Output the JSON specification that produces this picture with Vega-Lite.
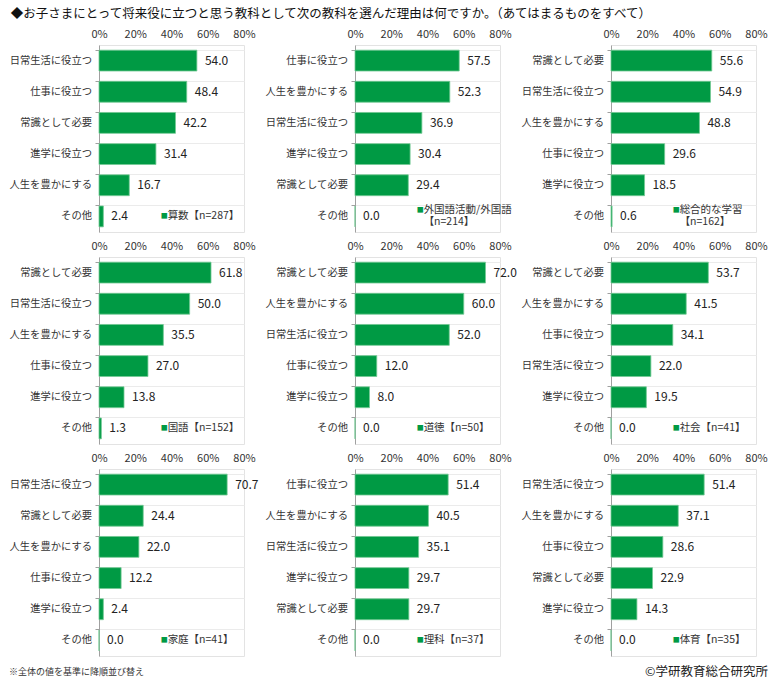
{
  "$schema": "https://vega.github.io/schema/vega-lite/v6.json",
  "padding": {"left": 8, "top": 8, "right": 5, "bottom": 0},
  "title": {
    "text": "◆お子さまにとって将来役に立つと思う教科として次の教科を選んだ理由は何ですか。（あてはまるものをすべて）",
    "anchor": "start",
    "fontSize": 12.5,
    "fontWeight": "normal",
    "color": "#111",
    "offset": 6,
    "dx": 2
  },
  "spacing": 8,
  "vconcat": [
    {
      "data": {
        "values": [
          {"subject": "算数", "reason": "日常生活に役立つ", "value": 54.0},
          {"subject": "算数", "reason": "仕事に役立つ", "value": 48.4},
          {"subject": "算数", "reason": "常識として必要", "value": 42.2},
          {"subject": "算数", "reason": "進学に役立つ", "value": 31.4},
          {"subject": "算数", "reason": "人生を豊かにする", "value": 16.7},
          {"subject": "算数", "reason": "その他", "value": 2.4, "legend": "算数【n=287】"},
          {"subject": "外国語活動/外国語", "reason": "仕事に役立つ", "value": 57.5},
          {"subject": "外国語活動/外国語", "reason": "人生を豊かにする", "value": 52.3},
          {"subject": "外国語活動/外国語", "reason": "日常生活に役立つ", "value": 36.9},
          {"subject": "外国語活動/外国語", "reason": "進学に役立つ", "value": 30.4},
          {"subject": "外国語活動/外国語", "reason": "常識として必要", "value": 29.4},
          {"subject": "外国語活動/外国語", "reason": "その他", "value": 0.0, "legend": "外国語活動/外国語\n【n=214】"},
          {"subject": "総合的な学習", "reason": "常識として必要", "value": 55.6},
          {"subject": "総合的な学習", "reason": "日常生活に役立つ", "value": 54.9},
          {"subject": "総合的な学習", "reason": "人生を豊かにする", "value": 48.8},
          {"subject": "総合的な学習", "reason": "仕事に役立つ", "value": 29.6},
          {"subject": "総合的な学習", "reason": "進学に役立つ", "value": 18.5},
          {"subject": "総合的な学習", "reason": "その他", "value": 0.6, "legend": "総合的な学習\n【n=162】"},
          {"subject": "国語", "reason": "常識として必要", "value": 61.8},
          {"subject": "国語", "reason": "日常生活に役立つ", "value": 50.0},
          {"subject": "国語", "reason": "人生を豊かにする", "value": 35.5},
          {"subject": "国語", "reason": "仕事に役立つ", "value": 27.0},
          {"subject": "国語", "reason": "進学に役立つ", "value": 13.8},
          {"subject": "国語", "reason": "その他", "value": 1.3, "legend": "国語【n=152】"},
          {"subject": "道徳", "reason": "常識として必要", "value": 72.0},
          {"subject": "道徳", "reason": "人生を豊かにする", "value": 60.0},
          {"subject": "道徳", "reason": "日常生活に役立つ", "value": 52.0},
          {"subject": "道徳", "reason": "仕事に役立つ", "value": 12.0},
          {"subject": "道徳", "reason": "進学に役立つ", "value": 8.0},
          {"subject": "道徳", "reason": "その他", "value": 0.0, "legend": "道徳【n=50】"},
          {"subject": "社会", "reason": "常識として必要", "value": 53.7},
          {"subject": "社会", "reason": "人生を豊かにする", "value": 41.5},
          {"subject": "社会", "reason": "仕事に役立つ", "value": 34.1},
          {"subject": "社会", "reason": "日常生活に役立つ", "value": 22.0},
          {"subject": "社会", "reason": "進学に役立つ", "value": 19.5},
          {"subject": "社会", "reason": "その他", "value": 0.0, "legend": "社会【n=41】"},
          {"subject": "家庭", "reason": "日常生活に役立つ", "value": 70.7},
          {"subject": "家庭", "reason": "常識として必要", "value": 24.4},
          {"subject": "家庭", "reason": "人生を豊かにする", "value": 22.0},
          {"subject": "家庭", "reason": "仕事に役立つ", "value": 12.2},
          {"subject": "家庭", "reason": "進学に役立つ", "value": 2.4},
          {"subject": "家庭", "reason": "その他", "value": 0.0, "legend": "家庭【n=41】"},
          {"subject": "理科", "reason": "仕事に役立つ", "value": 51.4},
          {"subject": "理科", "reason": "人生を豊かにする", "value": 40.5},
          {"subject": "理科", "reason": "日常生活に役立つ", "value": 35.1},
          {"subject": "理科", "reason": "進学に役立つ", "value": 29.7},
          {"subject": "理科", "reason": "常識として必要", "value": 29.7},
          {"subject": "理科", "reason": "その他", "value": 0.0, "legend": "理科【n=37】"},
          {"subject": "体育", "reason": "日常生活に役立つ", "value": 51.4},
          {"subject": "体育", "reason": "人生を豊かにする", "value": 37.1},
          {"subject": "体育", "reason": "仕事に役立つ", "value": 28.6},
          {"subject": "体育", "reason": "常識として必要", "value": 22.9},
          {"subject": "体育", "reason": "進学に役立つ", "value": 14.3},
          {"subject": "体育", "reason": "その他", "value": 0.0, "legend": "体育【n=35】"}
        ]
      },
      "facet": {
        "field": "subject",
        "type": "nominal",
        "sort": ["算数", "外国語活動/外国語", "総合的な学習", "国語", "道徳", "社会", "家庭", "理科", "体育"],
        "title": null,
        "header": {"labels": false, "title": null, "labelExpr": "''", "labelFontSize": 1, "labelPadding": 0}
      },
      "columns": 3,
      "bounds": "flush",
      "spacing": {"row": 25, "column": 111},
      "resolve": {"scale": {"y": "independent"}, "axis": {"x": "independent"}},
      "spec": {
        "width": 145,
        "height": 187,
        "encoding": {
          "y": {
            "field": "reason",
            "type": "nominal",
            "sort": {"field": "value", "op": "sum", "order": "descending"},
            "title": null,
            "scale": {"paddingInner": 0.33, "paddingOuter": 0.165},
            "axis": {
              "bandPosition": 0,
              "grid": true,
              "gridColor": "#ebebeb",
              "ticks": true,
              "tickSize": 4,
              "tickColor": "#a0a0a0",
              "domainColor": "#a0a0a0",
              "labelPadding": 3.5,
              "labelFontSize": 10.3,
              "labelColor": "#333",
              "labelBound": false
            }
          }
        },
        "layer": [
          {
            "mark": {"type": "bar", "color": "#009a44", "stroke": "#74c994", "strokeWidth": 0.8},
            "encoding": {
              "x": {
                "field": "value",
                "type": "quantitative",
                "title": null,
                "scale": {"domain": [0, 80], "nice": false},
                "axis": {
                  "orient": "top",
                  "values": [0, 20, 40, 60, 80],
                  "tickCount": 5,
                  "labelExpr": "datum.value + '%'",
                  "grid": false,
                  "domain": false,
                  "ticks": false,
                  "labelPadding": 6,
                  "labelFontSize": 11,
                  "labelColor": "#333",
                  "labelFlush": false,
                  "labelOverlap": false
                }
              }
            }
          },
          {
            "mark": {"type": "text", "align": "left", "dx": 8, "fontSize": 12, "color": "#222"},
            "encoding": {
              "x": {
                "field": "value",
                "type": "quantitative",
                "title": null,
                "scale": {"domain": [0, 80], "nice": false},
                "axis": {
                  "orient": "top",
                  "values": [0, 20, 40, 60, 80],
                  "tickCount": 5,
                  "labelExpr": "datum.value + '%'",
                  "grid": false,
                  "domain": false,
                  "ticks": false,
                  "labelPadding": 6,
                  "labelFontSize": 11,
                  "labelColor": "#333",
                  "labelFlush": false,
                  "labelOverlap": false
                }
              },
              "text": {"field": "value", "type": "quantitative", "format": ".1f"}
            }
          },
          {
            "mark": {"type": "text", "align": "left", "dx": 7, "fontSize": 10.5, "color": "#333"},
            "encoding": {
              "x": {"datum": 34, "type": "quantitative", "title": null},
              "text": {"condition": {"test": "isValid(datum.legend) && indexof(datum.legend, '\\n') < 0", "field": "legend"}, "value": ""}
            }
          },
          {
            "mark": {"type": "text", "align": "left", "dx": 7, "dy": -6, "fontSize": 10.5, "lineHeight": 12, "lineBreak": "\n", "color": "#333"},
            "encoding": {
              "x": {"datum": 34, "type": "quantitative", "title": null},
              "text": {"condition": {"test": "isValid(datum.legend) && indexof(datum.legend, '\\n') >= 0", "field": "legend"}, "value": ""}
            }
          },
          {
            "mark": {"type": "text", "align": "left", "fontSize": 7, "color": "#009a44"},
            "encoding": {
              "x": {"datum": 34, "type": "quantitative", "title": null},
              "text": {"condition": {"test": "isValid(datum.legend) && indexof(datum.legend, '\\n') < 0", "value": "■"}, "value": ""}
            }
          },
          {
            "mark": {"type": "text", "align": "left", "fontSize": 7, "dy": -6, "color": "#009a44"},
            "encoding": {
              "x": {"datum": 34, "type": "quantitative", "title": null},
              "text": {"condition": {"test": "isValid(datum.legend) && indexof(datum.legend, '\\n') >= 0", "value": "■"}, "value": ""}
            }
          }
        ]
      }
    },
    {
      "width": 669,
      "height": 14,
      "view": {"stroke": null},
      "data": {"values": [{}]},
      "layer": [
        {
          "mark": {"type": "text", "text": "※全体の値を基準に降順並び替え", "align": "left", "fontSize": 9, "color": "#333"},
          "encoding": {"x": {"datum": 0, "type": "quantitative", "scale": {"domain": [0, 1], "range": [-90, 669]}, "axis": null}}
        },
        {
          "mark": {"type": "text", "text": "©学研教育総合研究所", "align": "right", "fontSize": 12.5, "color": "#222"},
          "encoding": {"x": {"datum": 1, "type": "quantitative", "axis": null}}
        }
      ]
    }
  ],
  "config": {
    "font": "Noto Sans CJK JP",
    "view": {"stroke": "#e3e3e3"},
    "axisX": {"labelOverlap": false}
  }
}
